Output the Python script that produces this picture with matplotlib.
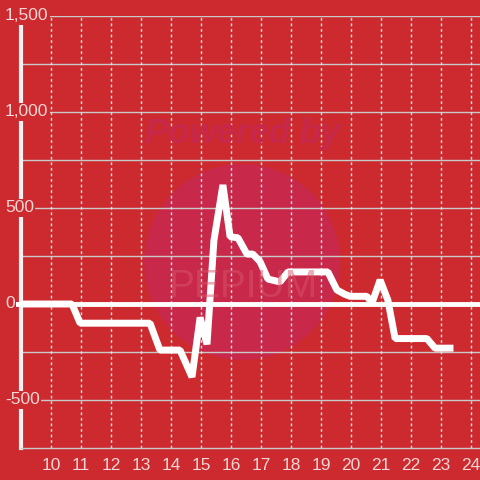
import numpy as np
import matplotlib.pyplot as plt
from matplotlib.patches import Circle
from matplotlib.transforms import blended_transform_factory

# values
x_vals = [9.0, 10.7, 10.97, 13.3, 13.63, 14.3, 14.7, 14.97, 15.2, 15.43, 15.73,
          15.97, 16.23, 16.53, 16.73, 16.97, 17.23, 17.63, 17.9, 19.23, 19.53,
          19.8, 19.97, 20.53, 20.7, 20.97, 21.23, 21.47, 22.53, 22.8, 23.3]
y_vals = [0, 0, -100, -100, -240, -240, -380, -70, -210, 330, 620,
          350, 345, 260, 260, 220, 130, 115, 167, 167, 73,
          50, 40, 40, 5, 125, 20, -180, -180, -230, -230]
x_ticks = list(range(10, 25))
y_ticks = [-500, 0, 500, 1000, 1500]
y_labels = ['-500', '0', '500', '1,000', '1,500']

bg = '#CD2A2F'
txt = '#F3D6D6'
plt.rcParams['font.family'] = ['Liberation Sans', 'DejaVu Sans']

fig = plt.figure(figsize=(4.8, 4.8), dpi=100, facecolor=bg)
ax = fig.add_axes([21/480, 32/480, 459/480, 432/480])
ax.set_facecolor(bg)

ax.set_xlim(9, 24.3)
ax.set_ylim(-750, 1500)

# watermark
ax.add_patch(Circle((242/480, 1 - 262/480), 98/480, transform=fig.transFigure,
                    color='#C8284A', zorder=0, lw=0))
fig.text(243/480, 1 - 133/480, 'Powered by', ha='center', va='center',
         fontsize=25, fontweight='bold', style='italic', color='#C8284A', zorder=0)
fig.text(243/480, 1 - 287/480, 'PEPIUM', ha='center', va='center',
         fontsize=28, color='#D9566A', alpha=0.5, zorder=0)

# grid
for yv in np.arange(-500, 1501, 250):
    ax.axhline(yv, color='#C9C9C9', lw=1, zorder=1)
for xv in x_ticks:
    ax.axvline(xv, color='#E6E6E6', lw=1, ls=(0, (2, 2)), zorder=1)

ax.axhline(0, xmin=-0.01, xmax=1, color='white', lw=3.5, zorder=3, clip_on=False)
ax.plot(x_vals, y_vals, color='white', lw=5, solid_joinstyle='bevel', zorder=4)

for s in ['top', 'right']:
    ax.spines[s].set_visible(False)
ax.spines['left'].set_color('#F2F2F2')
ax.spines['left'].set_linewidth(3)
ax.spines['left'].set_bounds(-750, 1460)
ax.spines['bottom'].set_color('#C9C9C9')
ax.spines['bottom'].set_linewidth(1)

ax.set_xticks(x_ticks)
ax.set_xticklabels([str(v) for v in x_ticks])
ax.tick_params(axis='x', length=0, pad=7, labelsize=12.5, labelcolor=txt)
ax.set_yticks([])

tr = blended_transform_factory(fig.transFigure, ax.transData)
for yv, lab in zip(y_ticks, y_labels):
    ax.text(5/480, yv, lab, transform=tr, ha='left', va='center', fontsize=12.5,
            color=txt, zorder=5,
            bbox=dict(facecolor=bg, edgecolor='none', pad=1))

fig.savefig('out.png', dpi=100, facecolor=bg)
